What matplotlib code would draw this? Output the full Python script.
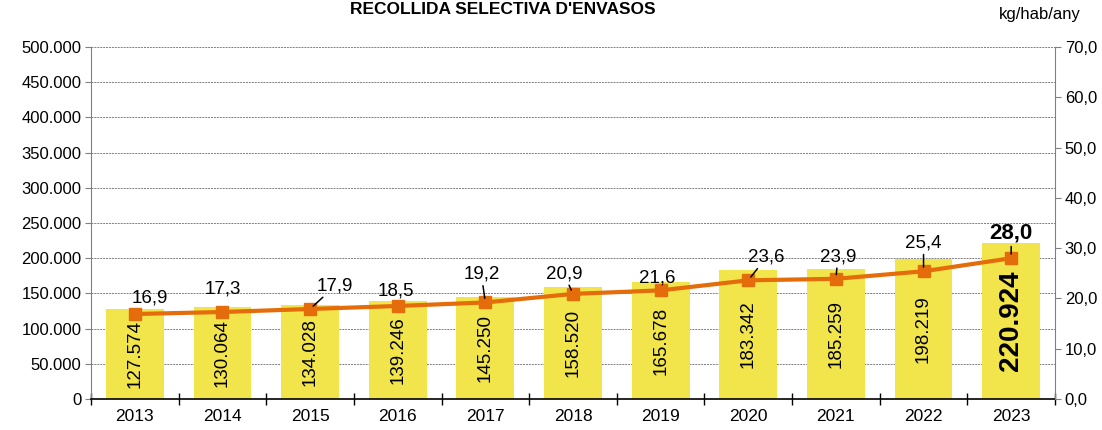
import matplotlib
matplotlib.use("Agg")
import matplotlib.pyplot as plt
from matplotlib.ticker import FuncFormatter, MultipleLocator
import numpy as np

plt.rcParams['font.family'] = ['Liberation Sans', 'DejaVu Sans']

years = ['2013', '2014', '2015', '2016', '2017', '2018', '2019', '2020', '2021', '2022', '2023']
tones = [127574, 130064, 134028, 139246, 145250, 158520, 165678, 183342, 185259, 198219, 220924]
kg_hab = [16.9, 17.3, 17.9, 18.5, 19.2, 20.9, 21.6, 23.6, 23.9, 25.4, 28.0]

bar_color = '#F2E54B'
line_color = '#E46C0A'

fig = plt.figure(figsize=(11.02, 4.30), dpi=100)
ax = fig.add_axes([91/1102, 1 - 399/430, (1055-91)/1102, (399-47)/430])
x = np.arange(len(years))

ax.bar(x, tones, width=0.66, color=bar_color, zorder=2)
ax.set_xlim(-0.5, len(years) - 0.5)
ax.set_ylim(0, 500000)
ax.yaxis.set_major_locator(MultipleLocator(50000))

def thousands(v, pos):
    return f"{int(v):,}".replace(',', '.')

ax.yaxis.set_major_formatter(FuncFormatter(thousands))
ax.grid(axis='y', color='#7f7f7f', linestyle=(0, (2, 1)), linewidth=0.7, zorder=0)
ax.set_xticks(x)
ax.set_xticklabels(years)
ax.set_xticks(np.arange(-0.5, len(years)), minor=True)
ax.tick_params(axis='x', which='major', length=0, labelsize=12.5, pad=7)
ax.tick_params(axis='x', which='minor', length=8, direction='inout', width=1, color='black')
ax.tick_params(axis='y', labelsize=12, length=4, color='#808080', pad=3)
for s in ['top', 'right']:
    ax.spines[s].set_visible(False)
ax.spines['left'].set_color('#808080')
ax.spines['bottom'].set_color('black')
ax.spines['bottom'].set_linewidth(1.2)
ax.spines['bottom'].set_zorder(5)

# bar value labels
for i, v in enumerate(tones):
    last = i == len(tones) - 1
    ax.text(i, v / 2, thousands(v, None), rotation=90, ha='center', va='center',
            fontsize=20 if last else 13.5, fontweight='bold' if last else 'normal', zorder=4)

ax2 = ax.twinx()
ax2.set_ylim(0, 70)
ax2.yaxis.set_major_locator(MultipleLocator(10))
ax2.yaxis.set_major_formatter(FuncFormatter(lambda v, p: f"{v:.1f}".replace('.', ',')))
ax2.tick_params(axis='y', labelsize=12, length=4, color='#808080', pad=3)
for s in ['top', 'left', 'bottom']:
    ax2.spines[s].set_visible(False)
ax2.spines['right'].set_color('#808080')
ax2.plot(x, kg_hab, color=line_color, linewidth=3, marker='s', markersize=8, zorder=3)

offsets = [(15, 16, False), (0, 23, False), (25, 23, True), (-2, 15, False), (-4, 28, True),
           (-9, 20, True), (-3, 12, False), (18, 23, True), (2, 22, True), (0, 28, True), (0, 25, True)]
for i, v in enumerate(kg_hab):
    dx, dy, lead = offsets[i]
    last = i == len(kg_hab) - 1
    txt = f"{v:.1f}".replace('.', ',')
    ax2.annotate(txt, (i, v), xytext=(dx, dy), textcoords='offset pixels',
                 ha='center', va='center', fontsize=16 if last else 13.5,
                 fontweight='bold' if last else 'normal', zorder=6,
                 arrowprops=dict(arrowstyle='-', color='black', lw=1.1, shrinkA=0, shrinkB=3) if lead else None)

fig.text(503/1102, 1 - 2/430, "RECOLLIDA SELECTIVA D'ENVASOS", ha='center', va='top',
         fontsize=12.5, fontweight='bold')
fig.text(1040/1102, 1 - 15/430, "kg/hab/any", ha='center', va='center', fontsize=12)

fig.savefig('out.png', dpi=100)
